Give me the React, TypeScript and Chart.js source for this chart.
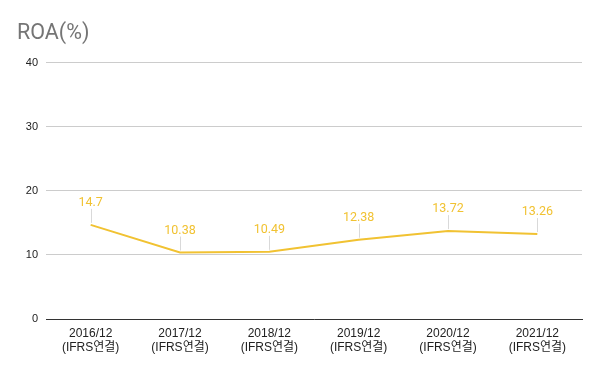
import React, { useEffect, useRef } from "react";
import { Chart, registerables } from "chart.js";

Chart.register(...registerables);

const categories: string[][] = [
  ["2016/12", "(IFRS연결)"],
  ["2017/12", "(IFRS연결)"],
  ["2018/12", "(IFRS연결)"],
  ["2019/12", "(IFRS연결)"],
  ["2020/12", "(IFRS연결)"],
  ["2021/12", "(IFRS연결)"],
];
const roaValues: number[] = [14.7, 10.38, 10.49, 12.38, 13.72, 13.26];
const valueLabels: string[] = ["14.7", "10.38", "10.49", "12.38", "13.72", "13.26"];

const LINE_COLOR = "#f1c232";

const labelPlugin = {
  id: "pointLabels",
  afterDatasetsDraw(chart: any) {
    const ctx = chart.ctx;
    const meta = chart.getDatasetMeta(0);
    ctx.save();
    meta.data.forEach((pt: any, i: number) => {
      const x = pt.x;
      const y = pt.y;
      ctx.strokeStyle = "#d9d9d9";
      ctx.lineWidth = 1;
      ctx.beginPath();
      ctx.moveTo(Math.round(x) + 0.5, y - 2);
      ctx.lineTo(Math.round(x) + 0.5, y - 16);
      ctx.stroke();
      ctx.fillStyle = LINE_COLOR;
      ctx.font = "12.5px Roboto, 'Noto Sans', sans-serif";
      ctx.textAlign = "center";
      ctx.textBaseline = "middle";
      ctx.fillText(valueLabels[i], x, y - 22);
    });
    ctx.restore();
  },
};

export default function App() {
  const ref = useRef<HTMLCanvasElement | null>(null);
  useEffect(() => {
    document.body.style.margin = "0";
    const canvas = ref.current!;
    const chart = new Chart(canvas, {
      type: "line",
      data: {
        labels: categories,
        datasets: [
          {
            data: roaValues,
            borderColor: LINE_COLOR,
            backgroundColor: LINE_COLOR,
            borderWidth: 2,
            pointRadius: 0,
            tension: 0,
          },
        ],
      },
      options: {
        animation: false,
        responsive: false,
        layout: { padding: { left: 17, right: 18, top: 0, bottom: 0 } },
        plugins: {
          legend: { display: false },
          tooltip: { enabled: false },
          title: {
            display: true,
            text: "ROA(%)",
            align: "start",
            color: "#757575",
            font: { family: "Roboto, 'Noto Sans', sans-serif", size: 21.5, weight: "normal", lineHeight: 1.2 },
            padding: { top: 21, bottom: 16 },
          },
        },
        scales: {
          x: {
            offset: true,
            grid: { display: false },
            border: { display: true, color: "#333333", width: 1 },
            ticks: {
              color: "#222222",
              font: { family: "'Liberation Sans', Arial, 'Noto Sans CJK KR', sans-serif", size: 12, lineHeight: 1.15 },
              maxRotation: 0,
              autoSkip: false,
              padding: 0,
            },
            afterFit: (scale: any) => {
              scale.height = 52;
            },
          },
          y: {
            min: 0,
            max: 40,
            ticks: {
              stepSize: 10,
              color: "#222222",
              font: { family: "'Liberation Sans', Arial, sans-serif", size: 11 },
              padding: 8,
            },
            grid: { color: "#cccccc", drawTicks: false },
            border: { display: false },
            afterFit: (scale: any) => {
              scale.width = 29;
            },
          },
        },
      },
      plugins: [labelPlugin],
    });
    return () => chart.destroy();
  }, []);
  return <canvas ref={ref} width={600} height={371} style={{ display: "block" }} />;
}
